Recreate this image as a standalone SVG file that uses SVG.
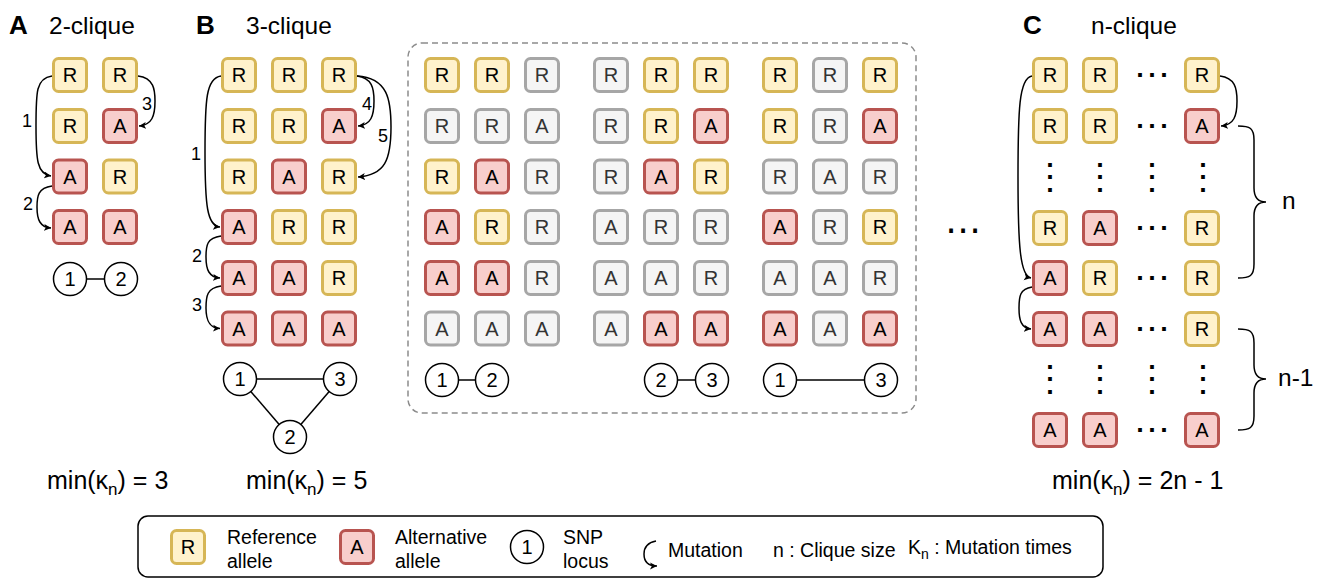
<svg xmlns="http://www.w3.org/2000/svg" width="1322" height="579" viewBox="0 0 1322 579">
<style>
text{font-family:"Liberation Sans",Arial,sans-serif;fill:#000}
.bx rect{stroke-width:3;rx:5px}
.r rect{fill:#fff2cc;stroke:#d6b656}
.a rect{fill:#f8cecc;stroke:#b85450}
.g rect{fill:#f5f5f5;stroke:#a6a6a6}
.g text{fill:#333}
.bx text{font-size:20px;text-anchor:middle}
.c circle{fill:#fff;stroke:#000;stroke-width:1.5}
.c text{font-size:20px;text-anchor:middle}
.ttl{font-size:24.5px}
.lbl{font-size:26px;font-weight:bold}
.mn{font-size:25px}
.num{font-size:18px;text-anchor:middle}
.lg{font-size:19.5px}
.dots{font-family:"DejaVu Sans",sans-serif;font-size:36px;text-anchor:middle}
.conn path{fill:none;stroke:#000;stroke-width:1.5}
.conn .arr{marker-end:url(#ah)}
.edge line{stroke:#000;stroke-width:1.5}
</style>
<defs>
<marker id="ah" markerWidth="9" markerHeight="8" refX="7" refY="4" orient="auto" markerUnits="userSpaceOnUse"><path d="M0,0.5 L7,4 L0,7.5 L1.8,4 Z" fill="#000"/></marker>
</defs>

<!-- titles -->
<text class="lbl" x="9" y="34">A</text>
<text class="ttl" x="49" y="34">2-clique</text>
<text class="lbl" x="196" y="34">B</text>
<text class="ttl" x="246" y="34">3-clique</text>
<text class="lbl" x="1023" y="34">C</text>
<text class="ttl" x="1091" y="34">n-clique</text>

<!-- Panel A nodes -->
<g id="a00" class="bx r"><rect x="53.5" y="58.5" width="33" height="33"/><text x="70" y="82">R</text></g>
<g id="a01" class="bx r"><rect x="103.5" y="58.5" width="33" height="33"/><text x="120" y="82">R</text></g>
<g id="a10" class="bx r"><rect x="53.5" y="109.5" width="33" height="33"/><text x="70" y="133">R</text></g>
<g id="a11" class="bx a"><rect x="103.5" y="109.5" width="33" height="33"/><text x="120" y="133">A</text></g>
<g id="a20" class="bx a"><rect x="53.5" y="160" width="33" height="33"/><text x="70" y="183.5">A</text></g>
<g id="a21" class="bx r"><rect x="103.5" y="160" width="33" height="33"/><text x="120" y="183.5">R</text></g>
<g id="a30" class="bx a"><rect x="53.5" y="210.5" width="33" height="33"/><text x="70" y="234">A</text></g>
<g id="a31" class="bx a"><rect x="103.5" y="210.5" width="33" height="33"/><text x="120" y="234">A</text></g>
<g id="a-snp1" class="c"><circle cx="70" cy="279" r="16.5"/><text x="70" y="286">1</text></g>
<g id="a-snp2" class="c"><circle cx="121" cy="279" r="16.5"/><text x="121" y="286">2</text></g>
<text class="mn" x="47" y="489">min(κ<tspan font-size="17" dy="6">n</tspan><tspan dy="-6">) = 3</tspan></text>

<!-- Panel B nodes -->
<g id="b00" class="bx r"><rect x="222.5" y="58.5" width="33" height="33"/><text x="239" y="82">R</text></g>
<g id="b01" class="bx r"><rect x="272.5" y="58.5" width="33" height="33"/><text x="289" y="82">R</text></g>
<g id="b02" class="bx r"><rect x="322.5" y="58.5" width="33" height="33"/><text x="339" y="82">R</text></g>
<g id="b10" class="bx r"><rect x="222.5" y="109.5" width="33" height="33"/><text x="239" y="133">R</text></g>
<g id="b11" class="bx r"><rect x="272.5" y="109.5" width="33" height="33"/><text x="289" y="133">R</text></g>
<g id="b12" class="bx a"><rect x="322.5" y="109.5" width="33" height="33"/><text x="339" y="133">A</text></g>
<g id="b20" class="bx r"><rect x="222.5" y="160" width="33" height="33"/><text x="239" y="183.5">R</text></g>
<g id="b21" class="bx a"><rect x="272.5" y="160" width="33" height="33"/><text x="289" y="183.5">A</text></g>
<g id="b22" class="bx r"><rect x="322.5" y="160" width="33" height="33"/><text x="339" y="183.5">R</text></g>
<g id="b30" class="bx a"><rect x="222.5" y="210.5" width="33" height="33"/><text x="239" y="234">A</text></g>
<g id="b31" class="bx r"><rect x="272.5" y="210.5" width="33" height="33"/><text x="289" y="234">R</text></g>
<g id="b32" class="bx r"><rect x="322.5" y="210.5" width="33" height="33"/><text x="339" y="234">R</text></g>
<g id="b40" class="bx a"><rect x="222.5" y="261.5" width="33" height="33"/><text x="239" y="285">A</text></g>
<g id="b41" class="bx a"><rect x="272.5" y="261.5" width="33" height="33"/><text x="289" y="285">A</text></g>
<g id="b42" class="bx r"><rect x="322.5" y="261.5" width="33" height="33"/><text x="339" y="285">R</text></g>
<g id="b50" class="bx a"><rect x="222.5" y="312" width="33" height="33"/><text x="239" y="335.5">A</text></g>
<g id="b51" class="bx a"><rect x="272.5" y="312" width="33" height="33"/><text x="289" y="335.5">A</text></g>
<g id="b52" class="bx a"><rect x="322.5" y="312" width="33" height="33"/><text x="339" y="335.5">A</text></g>
<g id="b-snp1" class="c"><circle cx="240" cy="379" r="16.5"/><text x="240" y="386">1</text></g>
<g id="b-snp3" class="c"><circle cx="340" cy="379" r="16.5"/><text x="340" y="386">3</text></g>
<g id="b-snp2" class="c"><circle cx="290" cy="437" r="16.5"/><text x="290" y="444">2</text></g>
<text class="mn" x="246" y="489">min(κ<tspan font-size="17" dy="6">n</tspan><tspan dy="-6">) = 5</tspan></text>

<!-- Dashed sub-problem box -->
<rect id="subbox" x="408" y="43" width="508" height="370" rx="14" fill="none" stroke="#8c8c8c" stroke-width="1.5" stroke-dasharray="6 4"/>
<!-- group 1 -->
<g id="d1-00" class="bx r"><rect x="425.5" y="58.5" width="33" height="33"/><text x="442" y="82">R</text></g>
<g id="d1-01" class="bx r"><rect x="475.5" y="58.5" width="33" height="33"/><text x="492" y="82">R</text></g>
<g id="d1-02" class="bx g"><rect x="525.5" y="58.5" width="33" height="33"/><text x="542" y="82">R</text></g>
<g id="d1-10" class="bx g"><rect x="425.5" y="109.5" width="33" height="33"/><text x="442" y="133">R</text></g>
<g id="d1-11" class="bx g"><rect x="475.5" y="109.5" width="33" height="33"/><text x="492" y="133">R</text></g>
<g id="d1-12" class="bx g"><rect x="525.5" y="109.5" width="33" height="33"/><text x="542" y="133">A</text></g>
<g id="d1-20" class="bx r"><rect x="425.5" y="160" width="33" height="33"/><text x="442" y="183.5">R</text></g>
<g id="d1-21" class="bx a"><rect x="475.5" y="160" width="33" height="33"/><text x="492" y="183.5">A</text></g>
<g id="d1-22" class="bx g"><rect x="525.5" y="160" width="33" height="33"/><text x="542" y="183.5">R</text></g>
<g id="d1-30" class="bx a"><rect x="425.5" y="210.5" width="33" height="33"/><text x="442" y="234">A</text></g>
<g id="d1-31" class="bx r"><rect x="475.5" y="210.5" width="33" height="33"/><text x="492" y="234">R</text></g>
<g id="d1-32" class="bx g"><rect x="525.5" y="210.5" width="33" height="33"/><text x="542" y="234">R</text></g>
<g id="d1-40" class="bx a"><rect x="425.5" y="261.5" width="33" height="33"/><text x="442" y="285">A</text></g>
<g id="d1-41" class="bx a"><rect x="475.5" y="261.5" width="33" height="33"/><text x="492" y="285">A</text></g>
<g id="d1-42" class="bx g"><rect x="525.5" y="261.5" width="33" height="33"/><text x="542" y="285">R</text></g>
<g id="d1-50" class="bx g"><rect x="425.5" y="312" width="33" height="33"/><text x="442" y="335.5">A</text></g>
<g id="d1-51" class="bx g"><rect x="475.5" y="312" width="33" height="33"/><text x="492" y="335.5">A</text></g>
<g id="d1-52" class="bx g"><rect x="525.5" y="312" width="33" height="33"/><text x="542" y="335.5">A</text></g>
<g id="d1-snp1" class="c"><circle cx="442" cy="380" r="16.5"/><text x="442" y="387">1</text></g>
<g id="d1-snp2" class="c"><circle cx="492" cy="380" r="16.5"/><text x="492" y="387">2</text></g>
<!-- group 2 -->
<g id="d2-00" class="bx g"><rect x="594.5" y="58.5" width="33" height="33"/><text x="611" y="82">R</text></g>
<g id="d2-01" class="bx r"><rect x="644.5" y="58.5" width="33" height="33"/><text x="661" y="82">R</text></g>
<g id="d2-02" class="bx r"><rect x="694.5" y="58.5" width="33" height="33"/><text x="711" y="82">R</text></g>
<g id="d2-10" class="bx g"><rect x="594.5" y="109.5" width="33" height="33"/><text x="611" y="133">R</text></g>
<g id="d2-11" class="bx r"><rect x="644.5" y="109.5" width="33" height="33"/><text x="661" y="133">R</text></g>
<g id="d2-12" class="bx a"><rect x="694.5" y="109.5" width="33" height="33"/><text x="711" y="133">A</text></g>
<g id="d2-20" class="bx g"><rect x="594.5" y="160" width="33" height="33"/><text x="611" y="183.5">R</text></g>
<g id="d2-21" class="bx a"><rect x="644.5" y="160" width="33" height="33"/><text x="661" y="183.5">A</text></g>
<g id="d2-22" class="bx r"><rect x="694.5" y="160" width="33" height="33"/><text x="711" y="183.5">R</text></g>
<g id="d2-30" class="bx g"><rect x="594.5" y="210.5" width="33" height="33"/><text x="611" y="234">A</text></g>
<g id="d2-31" class="bx g"><rect x="644.5" y="210.5" width="33" height="33"/><text x="661" y="234">R</text></g>
<g id="d2-32" class="bx g"><rect x="694.5" y="210.5" width="33" height="33"/><text x="711" y="234">R</text></g>
<g id="d2-40" class="bx g"><rect x="594.5" y="261.5" width="33" height="33"/><text x="611" y="285">A</text></g>
<g id="d2-41" class="bx g"><rect x="644.5" y="261.5" width="33" height="33"/><text x="661" y="285">A</text></g>
<g id="d2-42" class="bx g"><rect x="694.5" y="261.5" width="33" height="33"/><text x="711" y="285">R</text></g>
<g id="d2-50" class="bx g"><rect x="594.5" y="312" width="33" height="33"/><text x="611" y="335.5">A</text></g>
<g id="d2-51" class="bx a"><rect x="644.5" y="312" width="33" height="33"/><text x="661" y="335.5">A</text></g>
<g id="d2-52" class="bx a"><rect x="694.5" y="312" width="33" height="33"/><text x="711" y="335.5">A</text></g>
<g id="d2-snp2" class="c"><circle cx="661" cy="380" r="16.5"/><text x="661" y="387">2</text></g>
<g id="d2-snp3" class="c"><circle cx="712" cy="380" r="16.5"/><text x="712" y="387">3</text></g>
<!-- group 3 -->
<g id="d3-00" class="bx r"><rect x="763.5" y="58.5" width="33" height="33"/><text x="780" y="82">R</text></g>
<g id="d3-01" class="bx g"><rect x="813.5" y="58.5" width="33" height="33"/><text x="830" y="82">R</text></g>
<g id="d3-02" class="bx r"><rect x="863.5" y="58.5" width="33" height="33"/><text x="880" y="82">R</text></g>
<g id="d3-10" class="bx r"><rect x="763.5" y="109.5" width="33" height="33"/><text x="780" y="133">R</text></g>
<g id="d3-11" class="bx g"><rect x="813.5" y="109.5" width="33" height="33"/><text x="830" y="133">R</text></g>
<g id="d3-12" class="bx a"><rect x="863.5" y="109.5" width="33" height="33"/><text x="880" y="133">A</text></g>
<g id="d3-20" class="bx g"><rect x="763.5" y="160" width="33" height="33"/><text x="780" y="183.5">R</text></g>
<g id="d3-21" class="bx g"><rect x="813.5" y="160" width="33" height="33"/><text x="830" y="183.5">A</text></g>
<g id="d3-22" class="bx g"><rect x="863.5" y="160" width="33" height="33"/><text x="880" y="183.5">R</text></g>
<g id="d3-30" class="bx a"><rect x="763.5" y="210.5" width="33" height="33"/><text x="780" y="234">A</text></g>
<g id="d3-31" class="bx g"><rect x="813.5" y="210.5" width="33" height="33"/><text x="830" y="234">R</text></g>
<g id="d3-32" class="bx r"><rect x="863.5" y="210.5" width="33" height="33"/><text x="880" y="234">R</text></g>
<g id="d3-40" class="bx g"><rect x="763.5" y="261.5" width="33" height="33"/><text x="780" y="285">A</text></g>
<g id="d3-41" class="bx g"><rect x="813.5" y="261.5" width="33" height="33"/><text x="830" y="285">A</text></g>
<g id="d3-42" class="bx g"><rect x="863.5" y="261.5" width="33" height="33"/><text x="880" y="285">R</text></g>
<g id="d3-50" class="bx a"><rect x="763.5" y="312" width="33" height="33"/><text x="780" y="335.5">A</text></g>
<g id="d3-51" class="bx g"><rect x="813.5" y="312" width="33" height="33"/><text x="830" y="335.5">A</text></g>
<g id="d3-52" class="bx a"><rect x="863.5" y="312" width="33" height="33"/><text x="880" y="335.5">A</text></g>
<g id="d3-snp1" class="c"><circle cx="780" cy="380" r="16.5"/><text x="780" y="387">1</text></g>
<g id="d3-snp3" class="c"><circle cx="881" cy="380" r="16.5"/><text x="881" y="387">3</text></g>

<text id="between-dots" class="dots" x="963" y="242">⋯</text>

<!-- Panel C nodes -->
<g id="c00" class="bx r"><rect x="1033.5" y="58.5" width="33" height="33"/><text x="1050" y="82">R</text></g>
<g id="c01" class="bx r"><rect x="1083.5" y="58.5" width="33" height="33"/><text x="1100" y="82">R</text></g>
<g id="c03" class="bx r"><rect x="1185.5" y="58.5" width="33" height="33"/><text x="1202" y="82">R</text></g>
<g id="c10" class="bx r"><rect x="1033.5" y="109.5" width="33" height="33"/><text x="1050" y="133">R</text></g>
<g id="c11" class="bx r"><rect x="1083.5" y="109.5" width="33" height="33"/><text x="1100" y="133">R</text></g>
<g id="c13" class="bx a"><rect x="1185.5" y="109.5" width="33" height="33"/><text x="1202" y="133">A</text></g>
<g id="c30" class="bx r"><rect x="1033.5" y="211.5" width="33" height="33"/><text x="1050" y="235">R</text></g>
<g id="c31" class="bx a"><rect x="1083.5" y="211.5" width="33" height="33"/><text x="1100" y="235">A</text></g>
<g id="c33" class="bx r"><rect x="1185.5" y="211.5" width="33" height="33"/><text x="1202" y="235">R</text></g>
<g id="c40" class="bx a"><rect x="1033.5" y="261.5" width="33" height="33"/><text x="1050" y="285">A</text></g>
<g id="c41" class="bx r"><rect x="1083.5" y="261.5" width="33" height="33"/><text x="1100" y="285">R</text></g>
<g id="c43" class="bx r"><rect x="1185.5" y="261.5" width="33" height="33"/><text x="1202" y="285">R</text></g>
<g id="c50" class="bx a"><rect x="1033.5" y="312.5" width="33" height="33"/><text x="1050" y="336">A</text></g>
<g id="c51" class="bx a"><rect x="1083.5" y="312.5" width="33" height="33"/><text x="1100" y="336">A</text></g>
<g id="c53" class="bx r"><rect x="1185.5" y="312.5" width="33" height="33"/><text x="1202" y="336">R</text></g>
<g id="c70" class="bx a"><rect x="1033.5" y="413.5" width="33" height="33"/><text x="1050" y="437">A</text></g>
<g id="c71" class="bx a"><rect x="1083.5" y="413.5" width="33" height="33"/><text x="1100" y="437">A</text></g>
<g id="c73" class="bx a"><rect x="1185.5" y="413.5" width="33" height="33"/><text x="1202" y="437">A</text></g>
<g id="c-dots" class="dots">
<text x="1152" y="87">⋯</text>
<text x="1152" y="138">⋯</text>
<text x="1152" y="240">⋯</text>
<text x="1152" y="290">⋯</text>
<text x="1152" y="341">⋯</text>
<text x="1152" y="442">⋯</text>
<text x="1050" y="189">⋮</text>
<text x="1100" y="189">⋮</text>
<text x="1152" y="189">⋮</text>
<text x="1203" y="189">⋮</text>
<text x="1050" y="391">⋮</text>
<text x="1100" y="391">⋮</text>
<text x="1152" y="391">⋮</text>
<text x="1203" y="391">⋮</text>
</g>
<text class="ttl" x="1282" y="209">n</text>
<text class="ttl" x="1278" y="386">n-1</text>
<text class="mn" x="1052" y="489">min(κ<tspan font-size="17" dy="6">n</tspan><tspan dy="-6">) = 2n - 1</tspan></text>

<!-- connectors -->
<g id="connectors" class="conn">
<path class="arr" d="M52 76 C36 78 36 92 36 126 C36 160 37 174 51 176"/>
<path class="arr" d="M52 186 C38 188 37 196 37 207 C37 220 40 227 51 228"/>
<path class="arr" d="M138 76 C154 78 155 90 155 101 C155 116 152 125 139 126"/>
<path class="arr" d="M221 76 C206 78 205 100 205 152 C205 205 207 226 220 227"/>
<path class="arr" d="M221 236 C207 238 206 245 206 257 C206 270 209 277 220 278"/>
<path class="arr" d="M221 286 C207 288 206 296 206 308 C206 320 209 328 220 328.5"/>
<path class="arr" d="M357 76 C372 78 374 88 374 101 C374 116 371 125 358 126"/>
<path class="arr" d="M357 76 C388 78 391 100 391 127 C391 160 385 175 358 177"/>
<path class="arr" d="M1032 76 C1019 78 1018 110 1018 177 C1018 245 1020 276 1031 278"/>
<path class="arr" d="M1032 287 C1020 289 1019 296 1019 308 C1019 320 1021 328 1031 329"/>
<path class="arr" d="M1220 76 C1235 78 1237 88 1237 101 C1237 116 1234 125 1221 126"/>
<path d="M1238 126 C1250 126 1254 128 1254 140 L1254 188 C1254 198 1258 202 1266 202 C1258 202 1254 206 1254 216 L1254 264 C1254 276 1250 278 1238 278"/>
<path d="M1238 329 C1250 329 1254 331 1254 343 L1254 365 C1254 375 1258 379 1266 379 C1258 379 1254 383 1254 393 L1254 416 C1254 428 1250 430 1238 430"/>
</g>
<g id="edges" class="edge">
<line x1="86.5" y1="279" x2="104.5" y2="279"/>
<line x1="256.5" y1="379" x2="323.5" y2="379"/>
<line x1="250.8" y1="391.5" x2="279.2" y2="424.5"/>
<line x1="329.2" y1="391.5" x2="300.8" y2="424.5"/>
<line x1="458.5" y1="380" x2="475.5" y2="380"/>
<line x1="677.5" y1="380" x2="695.5" y2="380"/>
<line x1="796.5" y1="380" x2="864.5" y2="380"/>
</g>
<g id="mut-labels">
<text class="num" x="27" y="127">1</text>
<text class="num" x="28" y="210">2</text>
<text class="num" x="147" y="110">3</text>
<text class="num" x="196" y="160">1</text>
<text class="num" x="197" y="262">2</text>
<text class="num" x="197" y="311">3</text>
<text class="num" x="367" y="110">4</text>
<text class="num" x="383" y="142">5</text>
</g>

<!-- Legend -->
<g id="legend">
<rect x="138" y="516" width="965" height="61" rx="10" fill="none" stroke="#000" stroke-width="1.5"/>
<g id="lg-ref" class="bx r"><rect x="171.5" y="530.5" width="33" height="33"/><text x="188" y="554">R</text></g>
<text class="lg" x="227" y="544">Reference</text>
<text class="lg" x="227" y="568">allele</text>
<g id="lg-alt" class="bx a"><rect x="340.5" y="530.5" width="33" height="33"/><text x="357" y="554">A</text></g>
<text class="lg" x="395" y="544">Alternative</text>
<text class="lg" x="395" y="568">allele</text>
<g id="lg-snp" class="c"><circle cx="527" cy="547" r="16.5"/><text x="527" y="554">1</text></g>
<text class="lg" x="563" y="544">SNP</text>
<text class="lg" x="563" y="568">locus</text>
<path d="M656 541 C646 543 644 549 644 554 C644 561 647 566 657 566" fill="none" stroke="#000" stroke-width="1.5" marker-end="url(#ah)"/>
<text class="lg" x="668" y="557">Mutation</text>
<text class="lg" x="773" y="557">n : Clique size</text>
<text class="lg" x="908" y="554">K<tspan font-size="14" dy="5">n</tspan><tspan dy="-5"> : Mutation times</tspan></text>
</g>
</svg>
